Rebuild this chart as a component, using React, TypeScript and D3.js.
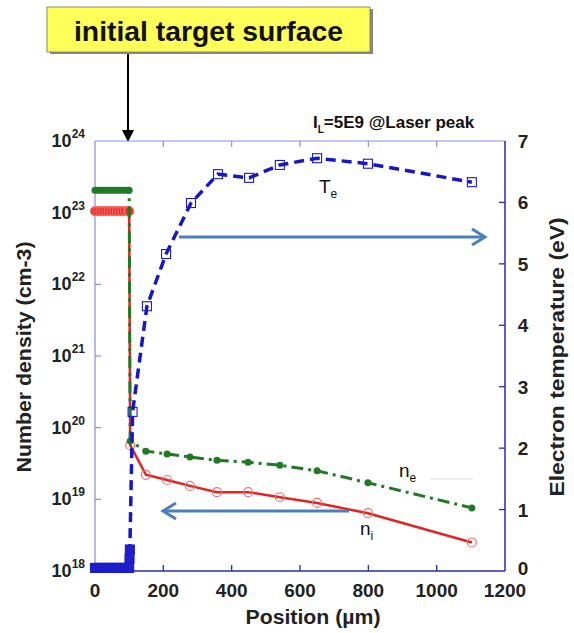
import React from 'react';
import * as d3 from 'd3';

// position in µm
const niPos = [0, 8, 16, 24, 32, 40, 48, 56, 64, 72, 80, 88, 96, 100, 103, 149, 211, 278, 357, 448, 541, 650, 799, 1103];
const niVal = [1.05e23, 1.05e23, 1.05e23, 1.05e23, 1.05e23, 1.05e23, 1.05e23, 1.05e23, 1.05e23, 1.05e23, 1.05e23, 1.05e23, 1.05e23, 1.05e23,
  5.7e19, 2.2e19, 1.86e19, 1.54e19, 1.26e19, 1.26e19, 1.07e19, 8.9e18, 6.4e18, 2.5e18];

const nePos = [0, 8, 16, 24, 32, 40, 48, 56, 64, 72, 80, 88, 96, 100, 103, 149, 211, 278, 357, 448, 541, 650, 799, 1103];
const neVal = [2.05e23, 2.05e23, 2.05e23, 2.05e23, 2.05e23, 2.05e23, 2.05e23, 2.05e23, 2.05e23, 2.05e23, 2.05e23, 2.05e23, 2.05e23, 2.05e23,
  6.5e19, 4.7e19, 4.3e19, 3.9e19, 3.5e19, 3.3e19, 3.0e19, 2.5e19, 1.7e19, 7.6e18];

const tePos = [0, 8, 16, 24, 32, 40, 48, 56, 64, 72, 80, 88, 96, 100, 101, 102, 110, 152, 208, 281, 360, 451, 541, 650, 799, 1103];
const teVal = [0.05, 0.05, 0.05, 0.05, 0.05, 0.05, 0.05, 0.05, 0.05, 0.05, 0.05, 0.05, 0.05, 0.05, 0.2, 0.35,
  2.59, 4.31, 5.16, 5.99, 6.46, 6.40, 6.61, 6.72, 6.63, 6.33];

const xTicks = [0, 200, 400, 600, 800, 1000, 1200];
const densTicks = [18, 19, 20, 21, 22, 23, 24];
const tempTicks = [0, 1, 2, 3, 4, 5, 6, 7];

const left = 95, right = 505, top = 141, bottom = 571;
const lightAxis = '#8c8cdc';
const darkAxis = '#2b2ba6';
const font = 'Liberation Sans, Arial, sans-serif';

export default function App() {
  const x = d3.scaleLinear().domain([0, 1200]).range([left, right]);
  const yL = d3.scaleLog().domain([1e18, 1e24]).range([bottom, top]);
  const yR = d3.scaleLinear().domain([0, 7]).range([bottom, top]);

  const ni = niPos.map((p, i) => [p, niVal[i]] as [number, number]);
  const ne = nePos.map((p, i) => [p, neVal[i]] as [number, number]);
  const te = tePos.map((p, i) => [p, teVal[i]] as [number, number]);

  const densLine = d3.line<[number, number]>().x(d => x(d[0])).y(d => yL(d[1]));
  const tempLine = d3.line<[number, number]>().x(d => x(d[0])).y(d => yR(d[1]));

  return (
    <svg width={574} height={633} style={{ position: 'absolute', left: 0, top: 0, background: '#fff' }}
      fontFamily={font}>

      {/* callout */}
      <rect x={50} y={9} width={323} height={45} fill="#333" opacity={0.6} />
      <rect x={47} y={7} width={323} height={45} fill="#ffff5a" stroke="#8a8a6a" strokeWidth={1} />
      <text x={74} y={41} fontSize={27} fontWeight="bold" fill="#111" textLength={269} lengthAdjust="spacingAndGlyphs">initial target surface</text>
      <line x1={128} y1={54} x2={128} y2={133} stroke="#000" strokeWidth={2} />
      <path d="M122,130 L128,142 L134,130 Z" fill="#000" />

      <text x={313} y={128} fontSize={17} fontWeight="bold" fill="#111">
        I<tspan fontSize={10} dy={5}>L</tspan><tspan dy={-5}>=5E9 @Laser peak</tspan>
      </text>

      {/* frame */}
      <line x1={left} y1={top} x2={right} y2={top} stroke={lightAxis} strokeWidth={1.2} />
      <line x1={left} y1={top} x2={left} y2={bottom} stroke={lightAxis} strokeWidth={1.2} />
      <line x1={right} y1={top} x2={right} y2={bottom} stroke={darkAxis} strokeWidth={1.5} />
      <line x1={left} y1={bottom} x2={right} y2={bottom} stroke={darkAxis} strokeWidth={1.5} />

      {xTicks.slice(1, -1).map(t => (
        <g key={'xt' + t}>
          <line x1={x(t)} x2={x(t)} y1={bottom} y2={bottom - 6} stroke={darkAxis} strokeWidth={1.3} />
          <line x1={x(t)} x2={x(t)} y1={top} y2={top + 6} stroke={lightAxis} strokeWidth={1.2} />
        </g>
      ))}
      {xTicks.map(t => (
        <text key={'xl' + t} x={x(t)} y={597} textAnchor="middle" fontSize={19} fontWeight="bold" fill="#222">{t}</text>
      ))}
      <text x={313} y={624} textAnchor="middle" fontSize={20} fontWeight="bold" fill="#222" textLength={135} lengthAdjust="spacingAndGlyphs">Position (µm)</text>

      {densTicks.map(e => (
        <g key={'yl' + e}>
          {e > 18 && e < 24 && <line x1={left} x2={left + 6} y1={yL(Math.pow(10, e))} y2={yL(Math.pow(10, e))} stroke={lightAxis} strokeWidth={1.2} />}
          <text x={85} y={yL(Math.pow(10, e)) + 6} textAnchor="end" fontSize={18} fontWeight="bold" fill="#222">
            10<tspan fontSize={12} dy={-9}>{e}</tspan>
          </text>
        </g>
      ))}
      <text transform={`translate(31,357) rotate(-90)`} textAnchor="middle" fontSize={20} fontWeight="bold" fill="#222"
        textLength={231} lengthAdjust="spacingAndGlyphs">
        Number density (cm-3)
      </text>

      {tempTicks.map(t => (
        <g key={'yr' + t}>
          {t > 0 && t < 7 && <line x1={right} x2={right - 6} y1={yR(t)} y2={yR(t)} stroke={darkAxis} strokeWidth={1.3} />}
          <text x={523} y={yR(t) + (t === 0 ? 4 : 7)} textAnchor="middle" fontSize={19} fontWeight="bold" fill="#222">{t}</text>
        </g>
      ))}
      <text transform={`translate(564,357) rotate(-90)`} textAnchor="middle" fontSize={20} fontWeight="bold" fill="#222"
        textLength={279} lengthAdjust="spacingAndGlyphs">
        Electron temperature  (eV)
      </text>

      {/* ni */}
      <path d={densLine(ni) || ''} fill="none" stroke="#e3231f" strokeWidth={2.5} />
      {ni.map((d, i) => (
        <circle key={'ni' + i} cx={x(d[0])} cy={yL(d[1])} r={4.5} fill={d[0] <= 100 ? '#ee2a22' : 'none'} stroke="#f07070" strokeWidth={1.2} />
      ))}

      {/* ne */}
      <path d={densLine(ne) || ''} fill="none" stroke="#1f7a24" strokeWidth={3} strokeDasharray="12,5,3,5" />
      {ne.map((d, i) => (
        <circle key={'ne' + i} cx={x(d[0])} cy={yL(d[1])} r={3.5} fill="#1f7a24" />
      ))}

      {/* Te */}
      <path d={tempLine(te) || ''} fill="none" stroke="#1616cc" strokeWidth={3.5} strokeDasharray="10,6" />
      {te.map((d, i) => (
        <rect key={'te' + i} x={x(d[0]) - 4.5} y={yR(d[1]) - 4.5} width={9} height={9}
          fill={d[0] <= 102 ? '#2020c8' : 'none'} stroke="#1a1acc" strokeWidth={1.1} />
      ))}

      {/* arrows */}
      <line x1={179} y1={237} x2={482} y2={237} stroke="#4a7fbd" strokeWidth={3} />
      <path d="M472,229 L485,237 L472,245" fill="none" stroke="#4a7fbd" strokeWidth={3} />
      <line x1={166} y1={511} x2={349} y2={511} stroke="#4a7fbd" strokeWidth={3} />
      <path d="M176,503 L163,511 L176,519" fill="none" stroke="#4a7fbd" strokeWidth={3} />

      {/* labels */}
      <text x={319} y={193} fontSize={19} fill="#111">T<tspan fontSize={12} dy={5}>e</tspan></text>
      <text x={399} y={477} fontSize={19} fill="#111">n<tspan fontSize={12} dy={5}>e</tspan></text>
      <line x1={430} y1={479} x2={473} y2={479} stroke="#ddd" strokeWidth={1} />
      <text x={360} y={535} fontSize={19} fill="#111">n<tspan fontSize={12} dy={5}>i</tspan></text>
    </svg>
  );
}
